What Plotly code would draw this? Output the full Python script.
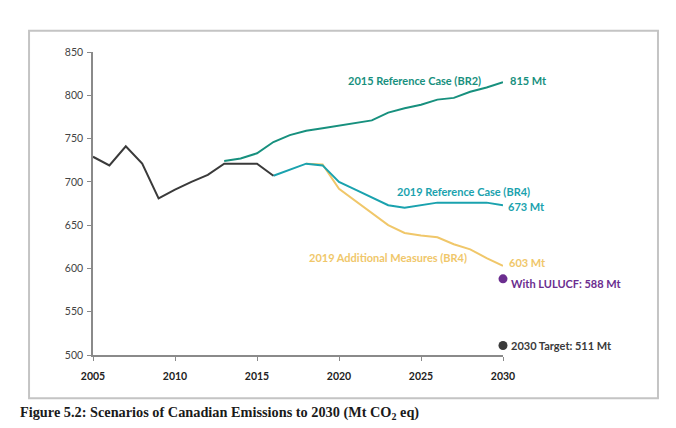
import plotly.graph_objects as go

# ---- data ----
hist_years = [2005, 2006, 2007, 2008, 2009, 2010, 2011, 2012, 2013, 2014, 2015, 2016]
hist_vals = [729, 719, 741, 721, 681, 691, 700, 708, 721, 721, 721, 707]

br2_years = list(range(2013, 2031))
br2_vals = [724, 727, 733, 746, 754, 759, 762, 765, 768, 771, 780, 785, 789, 795, 797, 804, 809, 815]

br4_years = list(range(2016, 2031))
br4_vals = [707, 714, 721, 719, 700, 691, 682, 673, 670, 673, 676, 676, 676, 676, 673]

am_years = list(range(2018, 2031))
am_vals = [721, 720, 692, 678, 664, 650, 641, 638, 636, 628, 622, 612, 603]

lulucf_year = [2030]
lulucf_val = [588]
target_year = [2030]
target_val = [511]

x_ticks = [2005, 2010, 2015, 2020, 2025, 2030]
y_ticks = [500, 550, 600, 650, 700, 750, 800, 850]

# ---- style ----
C_HIST = "#3a3a3a"
C_BR2 = "#17907e"
C_BR4 = "#1aa2ae"
C_AM = "#f0c76a"
C_PUR = "#6b2d8f"
FONT = "Lato"

fig = go.Figure()
fig.add_trace(go.Scatter(x=br2_years, y=br2_vals, mode="lines",
                         line=dict(color=C_BR2, width=2), cliponaxis=False))
fig.add_trace(go.Scatter(x=am_years, y=am_vals, mode="lines",
                         line=dict(color=C_AM, width=2), cliponaxis=False))
fig.add_trace(go.Scatter(x=br4_years, y=br4_vals, mode="lines",
                         line=dict(color=C_BR4, width=2), cliponaxis=False))
fig.add_trace(go.Scatter(x=hist_years, y=hist_vals, mode="lines",
                         line=dict(color=C_HIST, width=2), cliponaxis=False))
fig.add_trace(go.Scatter(x=lulucf_year, y=lulucf_val, mode="markers",
                         marker=dict(color=C_PUR, size=9), cliponaxis=False))
fig.add_trace(go.Scatter(x=target_year, y=target_val, mode="markers",
                         marker=dict(color=C_HIST, size=9), cliponaxis=False))

def ann(text, x, y, color, xanchor="left", xshift=0):
    fig.add_annotation(text=text, x=x, y=y, xref="x", yref="y", showarrow=False,
                       xanchor=xanchor, yanchor="middle", xshift=xshift,
                       font=dict(family=FONT, size=11, color=color, weight="bold"))

ann("2015 Reference Case (BR2)", 2028.8, 817, C_BR2, xanchor="right")
ann("815 Mt", 2030, 817, C_BR2, xshift=5)
ann("2019 Reference Case (BR4)", 2027.6, 689, C_BR4, xanchor="center")
ann("673 Mt", 2030, 671, C_BR4, xshift=3)
ann("2019 Additional Measures (BR4)", 2023.0, 612.5, C_AM, xanchor="center")
ann("603 Mt", 2030, 607, C_AM, xshift=4)
ann("With LULUCF: 588 Mt", 2030, 583, C_PUR, xshift=6)
ann("2030 Target: 511 Mt", 2030, 511, C_HIST, xshift=6)

fig.add_annotation(text="Figure 5.2: Scenarios of Canadian Emissions to 2030 (Mt CO<sub>2</sub> eq)",
                   xref="paper", yref="paper", x=-0.183, y=-0.193, showarrow=False,
                   xanchor="left", yanchor="middle",
                   font=dict(family="Liberation Serif", size=14.3, color="#1a1a1a", weight="bold"))

fig.add_shape(type="rect", xref="paper", yref="paper", x0=-0.156, x1=1.378, y0=-0.143, y1=1.070,
              line=dict(color="#c4c4c4", width=2), layer="below")

fig.update_layout(
    width=676, height=428,
    margin=dict(l=85, r=181, t=44, b=81),
    plot_bgcolor="white", paper_bgcolor="white",
    showlegend=False,
    xaxis=dict(range=[2005, 2030], tickvals=x_ticks, showgrid=False, zeroline=False,
               showline=True, linecolor="#8a8a8a", linewidth=1.5,
               ticks="outside", ticklen=4, tickcolor="#8a8a8a", tickwidth=1.2,
               ticklabelstandoff=7,
               tickfont=dict(family=FONT, size=10.5, color="#222", weight="bold")),
    yaxis=dict(range=[500, 850], tickvals=y_ticks, showgrid=False, zeroline=False,
               showline=True, linecolor="#8a8a8a", linewidth=1.5,
               ticks="outside", ticklen=4, tickcolor="#8a8a8a", tickwidth=1.2,
               ticklabelstandoff=2,
               tickfont=dict(family=FONT, size=10.5, color="#444")),
)

fig.write_html("out.html")
